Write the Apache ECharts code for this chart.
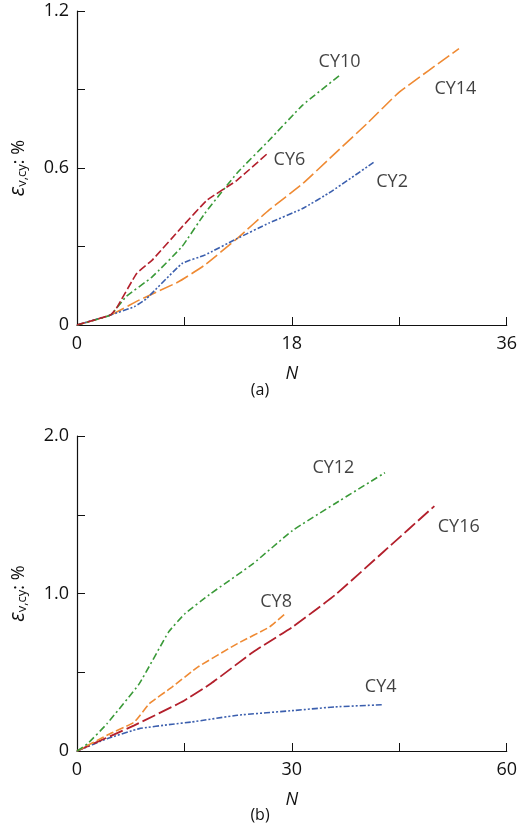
<!DOCTYPE html>
<html lang="en">
<head>
<meta charset="UTF-8">
<title>Volumetric strain vs N</title>
<script src="https://cdn.jsdelivr.net/npm/echarts@6/dist/echarts.min.js"></script>
</head>
<body style="margin:0;background:#fff">
<div id="main" style="width:520px;height:831px;"></div>
<script>
// panel (a)
var cy2  = [[0,0],[2.8,0.038],[4.8,0.07],[5.8,0.1],[8.8,0.235],[10.7,0.267],[13.4,0.33],[16.1,0.39],[18.9,0.445],[21.3,0.51],[24.9,0.623]];
var cy6  = [[0,0],[2.8,0.038],[3.3,0.064],[5,0.197],[6.3,0.248],[8.8,0.375],[10.9,0.477],[13.4,0.553],[15.9,0.653]];
var cy10 = [[0,0],[2.8,0.038],[4.1,0.108],[6.3,0.184],[8.8,0.3],[10.7,0.426],[13.4,0.58],[16.1,0.706],[18.9,0.84],[22,0.954]];
var cy14 = [[0,0],[2.8,0.038],[5.2,0.095],[8.5,0.165],[10.7,0.229],[13.4,0.33],[16.1,0.44],[18.9,0.54],[21.6,0.655],[24.3,0.77],[27,0.89],[32,1.056]];
// panel (b)
var cy4  = [[0,0],[4.2,0.078],[8.7,0.142],[13.3,0.17],[16,0.184],[22.4,0.227],[30.5,0.258],[36,0.28],[42.8,0.294]];
var cy8  = [[0,0],[4.2,0.1],[8,0.184],[10.1,0.3],[13.3,0.407],[16.9,0.534],[22.4,0.682],[26.9,0.788],[29.2,0.877]];
var cy12 = [[0,0],[1.5,0.047],[4.2,0.174],[8.7,0.428],[12.8,0.756],[15.1,0.873],[18.7,1.0],[24.6,1.19],[30.1,1.4],[36,1.57],[43,1.767]];
var cy16 = [[0,0],[8,0.163],[14.6,0.311],[18.7,0.428],[24.6,0.629],[30.1,0.788],[36,0.989],[42.8,1.265],[49.9,1.555]];
// label anchor points [x, y, text]
var labelsA = [[22,1.005,'CY10'],[31.7,0.903,'CY14'],[17.8,0.63,'CY6'],[26.4,0.547,'CY2']];
var labelsB = [[35.8,1.8,'CY12'],[53.3,1.42,'CY16'],[27.8,0.947,'CY8'],[42.4,0.41,'CY4']];

var blue = '#3b5fae', red = '#b3202c', green = '#3a9a38', orange = '#ef8a33';
var font = 'Open Sans', ink = '#111';
var dashDot = [7, 3, 2, 3], dashDotDot = [6, 2, 2, 2, 2, 2], dashed = [8, 3], longDash = [14, 4];

function xAxis(idx, max, interval, show) {
    return {
        type: 'value', gridIndex: idx, min: 0, max: max, interval: interval,
        name: 'N', nameLocation: 'middle', nameGap: 40,
        nameTextStyle: {fontFamily: font, fontSize: 18, fontStyle: 'italic', color: ink},
        axisLine: {lineStyle: {color: ink, width: 1.2}},
        axisTick: {inside: true, length: 8, lineStyle: {color: ink}},
        axisLabel: {fontFamily: font, fontSize: 18, color: ink, margin: 10,
            formatter: function (v) { return show.indexOf(v) >= 0 ? String(v) : ''; }},
        splitLine: {show: false}
    };
}
function yAxis(idx, max, interval, show) {
    return {
        type: 'value', gridIndex: idx, min: 0, max: max, interval: interval,
        name: '{e|ε}{s|v,cy}{n|: %}', nameLocation: 'middle', nameGap: 48, nameRotate: 90,
        nameTextStyle: {rich: {
            e: {fontFamily: font, fontSize: 21, fontStyle: 'italic', color: ink},
            s: {fontFamily: font, fontSize: 13, color: ink, verticalAlign: 'bottom', padding: [8, 0, 0, 0]},
            n: {fontFamily: font, fontSize: 18, color: ink}
        }},
        axisLine: {show: true, lineStyle: {color: ink, width: 1.2}},
        axisTick: {inside: true, length: 8, lineStyle: {color: ink}},
        axisLabel: {fontFamily: font, fontSize: 18, color: ink, margin: 8,
            formatter: function (v) {
                var r = Math.round(v * 10) / 10;
                return show.indexOf(r) >= 0 ? (r === 0 ? '0' : r.toFixed(1)) : '';
            }},
        splitLine: {show: false}
    };
}
function line(idx, data, color, dash, width) {
    return {type: 'line', xAxisIndex: idx, yAxisIndex: idx, data: data, symbol: 'none',
        smooth: 0.12, lineStyle: {color: color, width: width || 1.6, type: dash}};
}
function labels(idx, arr) {
    return {type: 'scatter', xAxisIndex: idx, yAxisIndex: idx, symbolSize: 0, silent: true,
        data: arr.map(function (d) { return {value: [d[0], d[1]], name: d[2]}; }),
        label: {show: true, position: 'inside', formatter: '{b}',
            fontFamily: font, fontSize: 18, color: ink}};
}

var myChart = echarts.init(document.getElementById('main'));
myChart.setOption({
    animation: false,
    grid: [
        {left: 69, right: 11, top: 11, height: 314},
        {left: 69, right: 11, top: 436, height: 315}
    ],
    xAxis: [xAxis(0, 36, 9, [0, 18, 36]), xAxis(1, 60, 15, [0, 30, 60])],
    yAxis: [yAxis(0, 1.2, 0.3, [0, 0.6, 1.2]), yAxis(1, 2.0, 0.5, [0, 1.0, 2.0])],
    graphic: [
        {type: 'text', left: 'center', top: 382, style: {text: '(a)', font: '16px "Open Sans"', fill: ink}},
        {type: 'text', left: 'center', top: 807, style: {text: '(b)', font: '16px "Open Sans"', fill: ink}}
    ],
    series: [
        line(0, cy14, orange, longDash),
        line(0, cy2, blue, dashDotDot),
        line(0, cy10, green, dashDot),
        line(0, cy6, red, dashed),
        labels(0, labelsA),
        line(1, cy4, blue, dashDotDot),
        line(1, cy16, red, longDash, 1.8),
        line(1, cy8, orange, dashed),
        line(1, cy12, green, dashDot),
        labels(1, labelsB)
    ]
});
</script>
</body>
</html>
